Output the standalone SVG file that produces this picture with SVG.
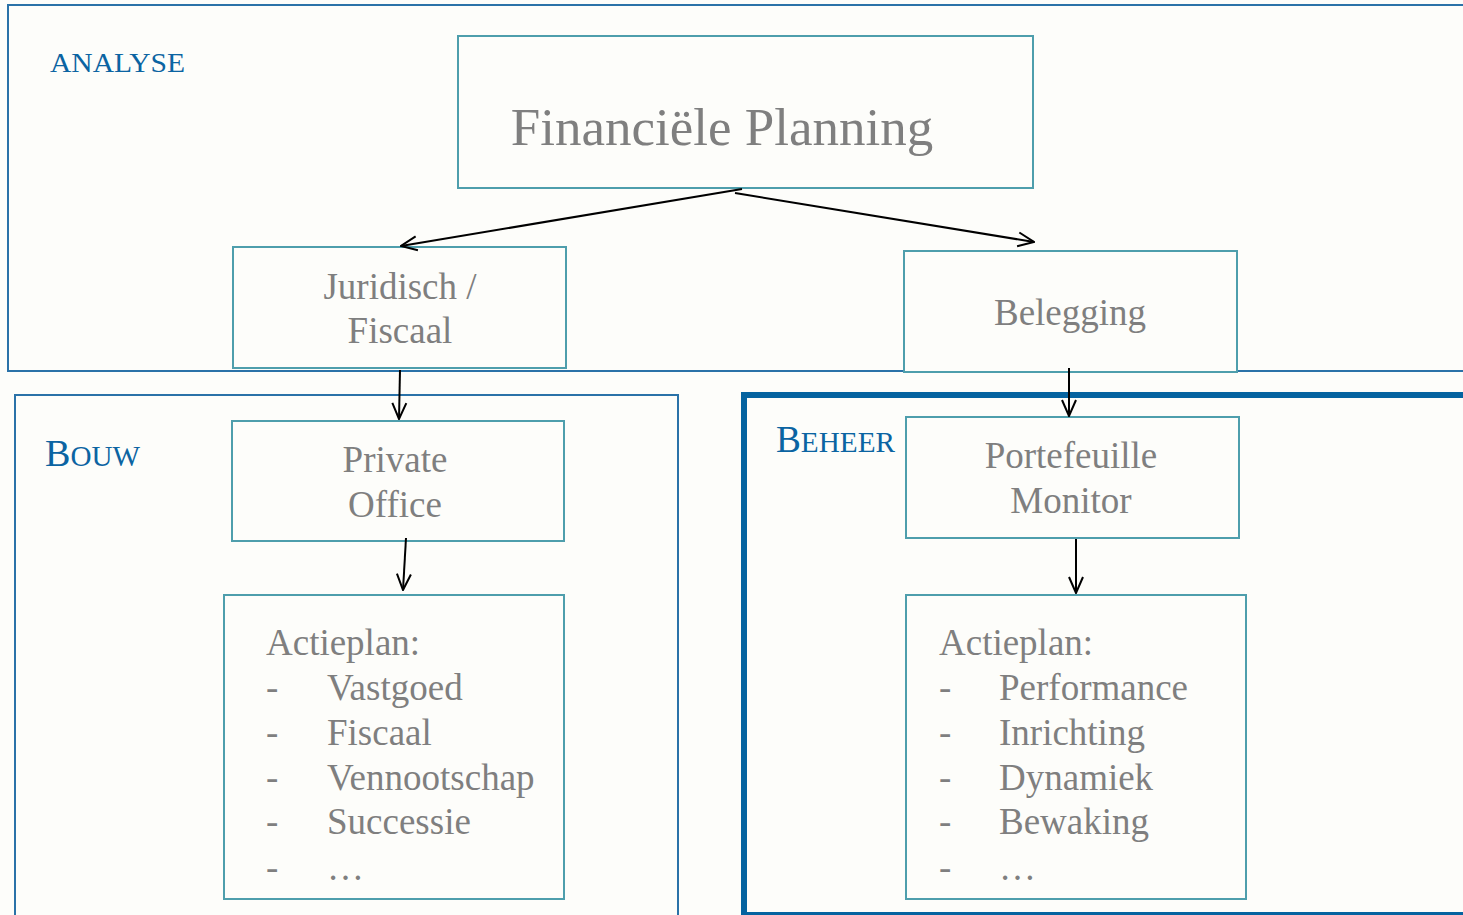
<svg xmlns="http://www.w3.org/2000/svg" width="1463" height="915" viewBox="0 0 1463 915">
<defs>
<style>
.cont{fill:none;stroke:#2a72a8;stroke-width:2}
.node{fill:#fdfdfa;stroke:#4e9eac;stroke-width:2}
.t{font-family:"Liberation Serif","Times New Roman",serif;fill:#7f7f7f;font-size:37px}
.big{font-size:53px}
.c{text-anchor:middle}
.lbl{font-family:"Liberation Serif","Times New Roman",serif;fill:#0b64a2}
.con{fill:none;stroke:#000;stroke-width:2}
</style>
<marker id="ah" viewBox="0 0 18 18" refX="17" refY="9" markerWidth="18" markerHeight="18" markerUnits="userSpaceOnUse" orient="auto">
<path d="M1,2 L17,9 L1,16" fill="none" stroke="#000" stroke-width="2"/>
</marker>
</defs>
<rect width="1463" height="915" fill="#fdfdfa"/>
<g id="analyse">
<rect class="cont" x="8" y="5" width="1470" height="366"/>
<text class="lbl" x="50" y="72" font-size="28" textLength="135" lengthAdjust="spacingAndGlyphs">ANALYSE</text>
</g>
<g id="bouw">
<rect class="cont" x="15" y="395" width="663" height="540"/>
<text class="lbl" x="45" y="466" textLength="95" lengthAdjust="spacingAndGlyphs"><tspan font-size="38">B</tspan><tspan font-size="29">OUW</tspan></text>
</g>
<g id="beheer">
<rect x="744" y="395" width="740" height="520" fill="none" stroke="#0563a0" stroke-width="6"/>
<text class="lbl" x="776" y="452" textLength="119" lengthAdjust="spacingAndGlyphs"><tspan font-size="37">B</tspan><tspan font-size="29">EHEER</tspan></text>
</g>
<g id="financiele-planning">
<rect class="node" x="458" y="36" width="575" height="152"/>
<text class="t c big" x="722" y="145">Financiële Planning</text>
</g>
<g id="juridisch-fiscaal">
<rect class="node" x="233" y="247" width="333" height="121"/>
<text class="t c" x="400" y="299">Juridisch /</text>
<text class="t c" x="400" y="343">Fiscaal</text>
</g>
<g id="belegging">
<rect class="node" x="904" y="251" width="333" height="121"/>
<text class="t c" x="1070" y="325">Belegging</text>
</g>
<g id="private-office">
<rect class="node" x="232" y="421" width="332" height="120"/>
<text class="t c" x="395" y="472">Private</text>
<text class="t c" x="395" y="517">Office</text>
</g>
<g id="portefeuille-monitor">
<rect class="node" x="906" y="417" width="333" height="121"/>
<text class="t c" x="1071" y="468">Portefeuille</text>
<text class="t c" x="1071" y="513">Monitor</text>
</g>
<g id="actieplan-bouw">
<rect class="node" x="224" y="595" width="340" height="304"/>
<text class="t" x="266" y="655">Actieplan:</text>
<text class="t" x="266" y="700">-</text><text class="t" x="327" y="700">Vastgoed</text>
<text class="t" x="266" y="745">-</text><text class="t" x="327" y="745">Fiscaal</text>
<text class="t" x="266" y="790">-</text><text class="t" x="327" y="790">Vennootschap</text>
<text class="t" x="266" y="834">-</text><text class="t" x="327" y="834">Successie</text>
<text class="t" x="266" y="880">-</text><text class="t" x="327" y="880">…</text>
</g>
<g id="actieplan-beheer">
<rect class="node" x="906" y="595" width="340" height="304"/>
<text class="t" x="939" y="655">Actieplan:</text>
<text class="t" x="939" y="700">-</text><text class="t" x="999" y="700">Performance</text>
<text class="t" x="939" y="745">-</text><text class="t" x="999" y="745">Inrichting</text>
<text class="t" x="939" y="790">-</text><text class="t" x="999" y="790">Dynamiek</text>
<text class="t" x="939" y="834">-</text><text class="t" x="999" y="834">Bewaking</text>
<text class="t" x="939" y="880">-</text><text class="t" x="999" y="880">…</text>
</g>
<g id="connectors">
<line class="con" x1="742" y1="189" x2="401" y2="246" marker-end="url(#ah)"/>
<line class="con" x1="735" y1="193" x2="1034" y2="242" marker-end="url(#ah)"/>
<line class="con" x1="400" y1="370" x2="399" y2="419" marker-end="url(#ah)"/>
<line class="con" x1="1069" y1="368" x2="1069" y2="416" marker-end="url(#ah)"/>
<line class="con" x1="406" y1="538" x2="403" y2="590" marker-end="url(#ah)"/>
<line class="con" x1="1076" y1="539" x2="1076" y2="593" marker-end="url(#ah)"/>
</g>
</svg>
